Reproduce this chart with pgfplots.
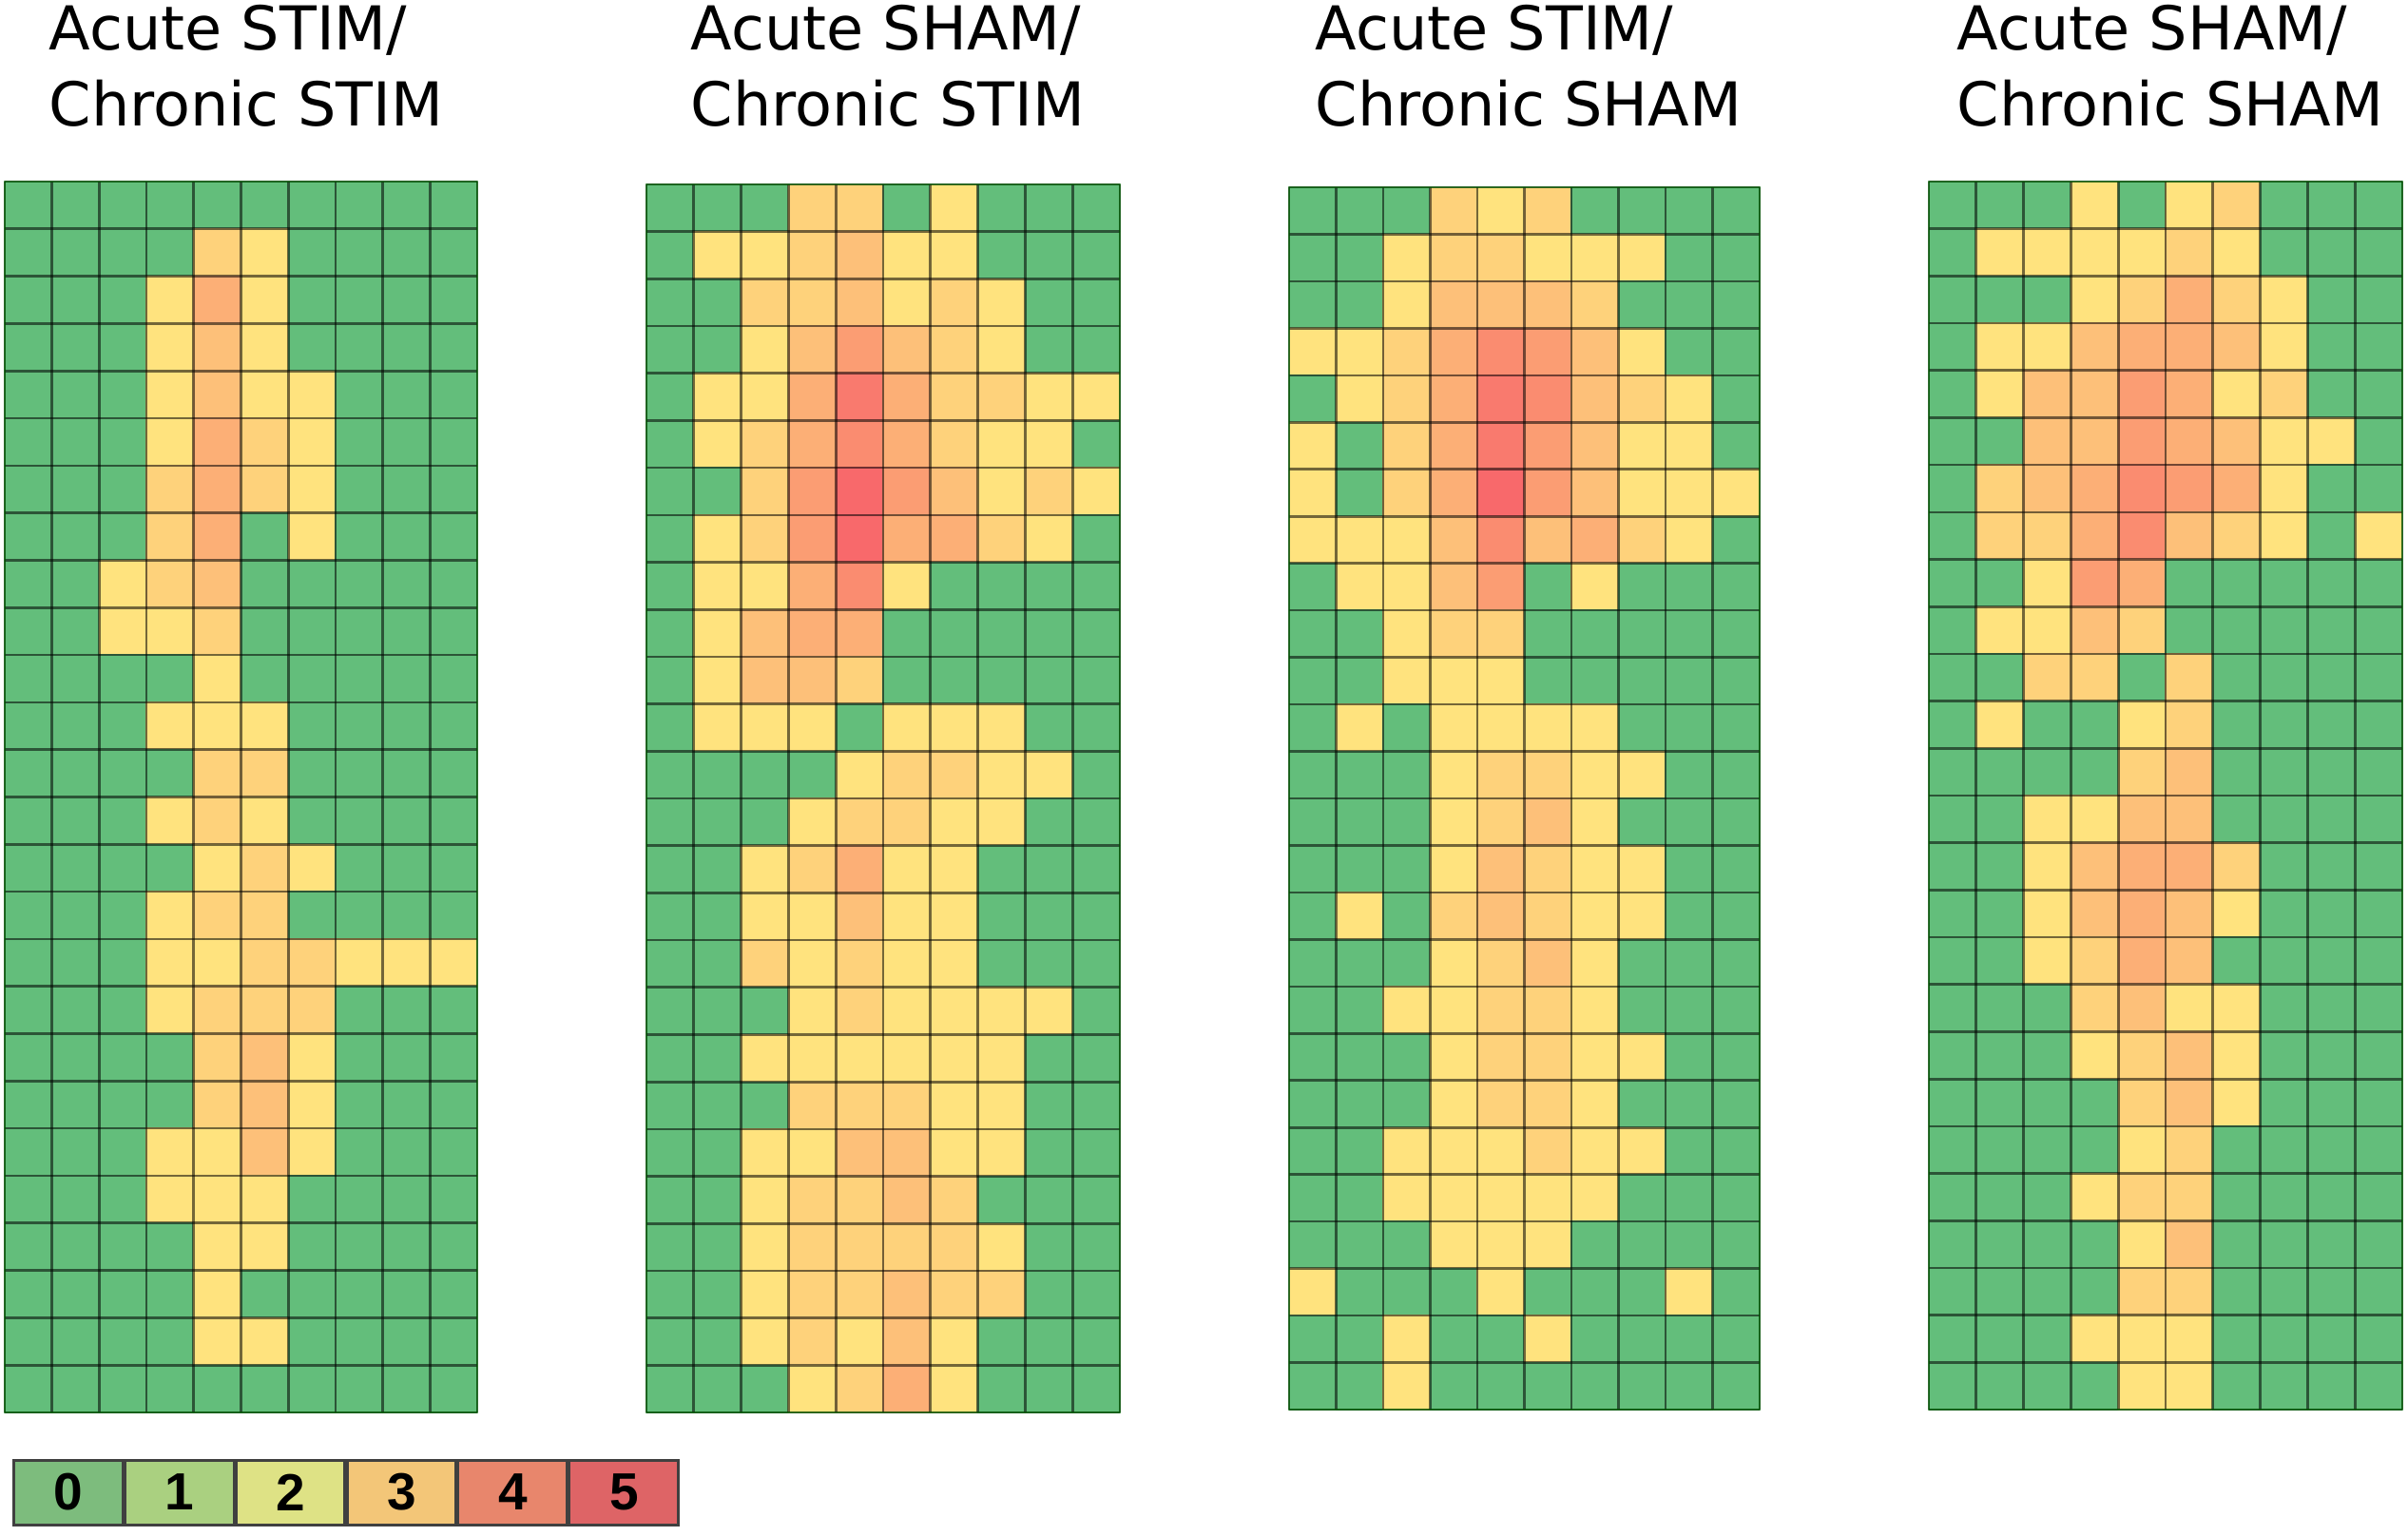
\documentclass[border=0pt]{standalone}
\usepackage{fontspec}
\setmainfont{DejaVu Sans}
\newfontfamily\legfont{Liberation Sans}
\usepackage{pgfplots}
\usepackage{pgfplotstable}
\pgfplotsset{compat=1.18}

% 1 px of the reference = 0.3pt
\def\u{0.3pt}

% cell levels, one line per row of the grid, top row first
\pgfplotstableread[row sep=crcr]{c\\
0\\0\\0\\0\\0\\0\\0\\0\\0\\0\\
0\\0\\0\\0\\2\\1\\0\\0\\0\\0\\
0\\0\\0\\1\\4\\1\\0\\0\\0\\0\\
0\\0\\0\\1\\3\\1\\0\\0\\0\\0\\
0\\0\\0\\1\\3\\1\\1\\0\\0\\0\\
0\\0\\0\\1\\4\\2\\1\\0\\0\\0\\
0\\0\\0\\2\\4\\2\\1\\0\\0\\0\\
0\\0\\0\\2\\4\\0\\1\\0\\0\\0\\
0\\0\\1\\2\\3\\0\\0\\0\\0\\0\\
0\\0\\1\\1\\2\\0\\0\\0\\0\\0\\
0\\0\\0\\0\\1\\0\\0\\0\\0\\0\\
0\\0\\0\\1\\1\\1\\0\\0\\0\\0\\
0\\0\\0\\0\\2\\2\\0\\0\\0\\0\\
0\\0\\0\\1\\2\\1\\0\\0\\0\\0\\
0\\0\\0\\0\\1\\2\\1\\0\\0\\0\\
0\\0\\0\\1\\2\\2\\0\\0\\0\\0\\
0\\0\\0\\1\\1\\2\\2\\1\\1\\1\\
0\\0\\0\\1\\2\\2\\2\\0\\0\\0\\
0\\0\\0\\0\\2\\3\\1\\0\\0\\0\\
0\\0\\0\\0\\2\\3\\1\\0\\0\\0\\
0\\0\\0\\1\\1\\3\\1\\0\\0\\0\\
0\\0\\0\\1\\1\\1\\0\\0\\0\\0\\
0\\0\\0\\0\\1\\1\\0\\0\\0\\0\\
0\\0\\0\\0\\1\\0\\0\\0\\0\\0\\
0\\0\\0\\0\\1\\1\\0\\0\\0\\0\\
0\\0\\0\\0\\0\\0\\0\\0\\0\\0\\
}\stimstim

\pgfplotstableread[row sep=crcr]{c\\
0\\0\\0\\2\\2\\0\\1\\0\\0\\0\\
0\\1\\1\\2\\3\\1\\1\\0\\0\\0\\
0\\0\\2\\2\\3\\1\\2\\1\\0\\0\\
0\\0\\1\\3\\5\\3\\2\\1\\0\\0\\
0\\1\\1\\4\\7\\4\\2\\2\\1\\1\\
0\\1\\2\\4\\6\\4\\2\\1\\1\\0\\
0\\0\\2\\5\\8\\5\\3\\1\\2\\1\\
0\\1\\2\\5\\8\\4\\4\\2\\1\\0\\
0\\1\\1\\4\\6\\1\\0\\0\\0\\0\\
0\\1\\3\\4\\4\\0\\0\\0\\0\\0\\
0\\1\\3\\3\\2\\0\\0\\0\\0\\0\\
0\\1\\1\\1\\0\\1\\1\\1\\0\\0\\
0\\0\\0\\0\\1\\2\\2\\1\\1\\0\\
0\\0\\0\\1\\2\\2\\1\\1\\0\\0\\
0\\0\\1\\2\\4\\1\\1\\0\\0\\0\\
0\\0\\1\\1\\3\\1\\1\\0\\0\\0\\
0\\0\\2\\1\\2\\1\\1\\0\\0\\0\\
0\\0\\0\\1\\2\\1\\1\\1\\1\\0\\
0\\0\\1\\1\\1\\1\\1\\1\\0\\0\\
0\\0\\0\\2\\2\\2\\1\\1\\0\\0\\
0\\0\\1\\1\\3\\3\\1\\1\\0\\0\\
0\\0\\1\\2\\2\\3\\2\\0\\0\\0\\
0\\0\\1\\2\\2\\2\\2\\1\\0\\0\\
0\\0\\1\\2\\2\\3\\2\\2\\0\\0\\
0\\0\\1\\2\\1\\3\\1\\0\\0\\0\\
0\\0\\0\\1\\2\\4\\1\\0\\0\\0\\
}\shamstim

\pgfplotstableread[row sep=crcr]{c\\
0\\0\\0\\2\\1\\2\\0\\0\\0\\0\\
0\\0\\1\\2\\2\\1\\1\\1\\0\\0\\
0\\0\\1\\3\\3\\3\\2\\0\\0\\0\\
1\\1\\2\\4\\6\\5\\3\\1\\0\\0\\
0\\1\\2\\4\\7\\6\\3\\2\\1\\0\\
1\\0\\2\\4\\7\\5\\3\\1\\1\\0\\
1\\0\\2\\4\\8\\5\\3\\1\\1\\1\\
1\\1\\1\\3\\6\\3\\4\\2\\1\\0\\
0\\1\\1\\3\\5\\0\\1\\0\\0\\0\\
0\\0\\1\\2\\2\\0\\0\\0\\0\\0\\
0\\0\\1\\1\\1\\0\\0\\0\\0\\0\\
0\\1\\0\\1\\1\\1\\1\\0\\0\\0\\
0\\0\\0\\1\\2\\2\\1\\1\\0\\0\\
0\\0\\0\\1\\2\\3\\1\\0\\0\\0\\
0\\0\\0\\1\\3\\2\\1\\1\\0\\0\\
0\\1\\0\\2\\3\\2\\1\\1\\0\\0\\
0\\0\\0\\1\\2\\3\\1\\0\\0\\0\\
0\\0\\1\\1\\2\\2\\1\\0\\0\\0\\
0\\0\\0\\1\\2\\2\\1\\1\\0\\0\\
0\\0\\0\\1\\2\\2\\1\\0\\0\\0\\
0\\0\\1\\1\\1\\2\\1\\1\\0\\0\\
0\\0\\1\\1\\1\\1\\1\\0\\0\\0\\
0\\0\\0\\1\\1\\1\\0\\0\\0\\0\\
1\\0\\0\\0\\1\\0\\0\\0\\1\\0\\
0\\0\\1\\0\\0\\1\\0\\0\\0\\0\\
0\\0\\1\\0\\0\\0\\0\\0\\0\\0\\
}\stimsham

\pgfplotstableread[row sep=crcr]{c\\
0\\0\\0\\1\\0\\1\\2\\0\\0\\0\\
0\\1\\1\\1\\1\\2\\1\\0\\0\\0\\
0\\0\\0\\1\\2\\4\\2\\1\\0\\0\\
0\\1\\1\\3\\4\\4\\3\\1\\0\\0\\
0\\1\\3\\3\\5\\4\\1\\2\\0\\0\\
0\\0\\3\\3\\5\\4\\3\\1\\1\\0\\
0\\2\\3\\4\\6\\5\\4\\1\\0\\0\\
0\\2\\2\\4\\6\\3\\2\\1\\0\\1\\
0\\0\\1\\5\\4\\0\\0\\0\\0\\0\\
0\\1\\1\\3\\2\\0\\0\\0\\0\\0\\
0\\0\\2\\2\\0\\2\\0\\0\\0\\0\\
0\\1\\0\\0\\1\\2\\0\\0\\0\\0\\
0\\0\\0\\0\\2\\3\\0\\0\\0\\0\\
0\\0\\1\\1\\3\\3\\0\\0\\0\\0\\
0\\0\\1\\3\\4\\4\\2\\0\\0\\0\\
0\\0\\1\\3\\4\\3\\1\\0\\0\\0\\
0\\0\\1\\2\\4\\3\\0\\0\\0\\0\\
0\\0\\0\\2\\3\\1\\1\\0\\0\\0\\
0\\0\\0\\1\\2\\3\\1\\0\\0\\0\\
0\\0\\0\\0\\2\\3\\1\\0\\0\\0\\
0\\0\\0\\0\\1\\2\\0\\0\\0\\0\\
0\\0\\0\\1\\2\\2\\0\\0\\0\\0\\
0\\0\\0\\0\\1\\3\\0\\0\\0\\0\\
0\\0\\0\\0\\2\\2\\0\\0\\0\\0\\
0\\0\\0\\1\\1\\1\\0\\0\\0\\0\\
0\\0\\0\\0\\1\\1\\0\\0\\0\\0\\
}\shamsham

\pgfplotsset{
  heat/.style={
    scale only axis,
    y dir=reverse,
    enlargelimits=false,
    xmin=-0.5, xmax=9.5, ymin=-0.5, ymax=25.5,
    xtick={-0.5,0.5,...,9.5},
    ytick={-0.5,0.5,...,25.5},
    xticklabels={}, yticklabels={},
    major tick length=0pt,
    grid=major,
    major grid style={black, opacity=0.55, line width=0.8pt},
    axis line style={black!60!green, opacity=0.6, line width=0.5pt},
    axis on top,
    colormap={cells}{rgb255(0cm)=(99,190,123) rgb255(1cm)=(255,227,126) rgb255(8cm)=(248,105,107)},
    point meta min=0, point meta max=8,
  },
}
\tikzset{paneltitle/.style={anchor=base west, inner sep=0pt, font=\fontsize{19.1}{19.1}\selectfont}}

% left, top, width, height in reference px; table
% the +0.5 keeps floor() off the rounding error at whole multiples of ten
\newcommand{\heatpanel}[5]{
\begin{axis}[heat, anchor=north west, at={(#1*\u,-#2*\u)},
    width=#3*\u, height=#4*\u]
\addplot[matrix plot*, mesh/cols=10, point meta=\thisrow{c}]
    table[x index=0, y index=0,
          x expr={\coordindex-10*floor((\coordindex+0.5)/10)},
          y expr={floor((\coordindex+0.5)/10)}] {#5};
\end{axis}
}

\begin{document}
\begin{tikzpicture}
\path[use as bounding box] (0,0) rectangle (2533*\u,-1616*\u);

\heatpanel{5}{191}{497}{1295}{\stimstim}
\heatpanel{680}{194}{498}{1292}{\shamstim}
\heatpanel{1356}{197}{495}{1286}{\stimsham}
\heatpanel{2029}{191}{498}{1292}{\shamsham}

\node[paneltitle] at (51*\u,-53*\u) {Acute STIM/};
\node[paneltitle] at (51*\u,-133*\u) {Chronic STIM};
\node[paneltitle] at (726*\u,-53*\u) {Acute SHAM/};
\node[paneltitle] at (726*\u,-133*\u) {Chronic STIM};
\node[paneltitle] at (1383*\u,-53*\u) {Acute STIM/};
\node[paneltitle] at (1383*\u,-133*\u) {Chronic SHAM};
\node[paneltitle] at (2058*\u,-53*\u) {Acute SHAM/};
\node[paneltitle] at (2058*\u,-133*\u) {Chronic SHAM};

% key below the first panel
\begin{axis}[
    scale only axis, anchor=north west, at={(13*\u,-1535*\u)},
    width=702*\u, height=70*\u,
    xmin=-0.5, xmax=5.5, ymin=0, ymax=1,
    enlargelimits=false,
    hide axis,
    ybar, bar shift=0pt, bar width=1,
]
\addplot[fill={rgb,255:red,125;green,188;blue,125}, draw=black!75, line width=1.5pt] coordinates {(0,1)};
\addplot[fill={rgb,255:red,170;green,208;blue,128}, draw=black!75, line width=1.5pt] coordinates {(1,1)};
\addplot[fill={rgb,255:red,222;green,226;blue,133}, draw=black!75, line width=1.5pt] coordinates {(2,1)};
\addplot[fill={rgb,255:red,243;green,198;blue,120}, draw=black!75, line width=1.5pt] coordinates {(3,1)};
\addplot[fill={rgb,255:red,232;green,134;blue,108}, draw=black!75, line width=1.5pt] coordinates {(4,1)};
\addplot[fill={rgb,255:red,222;green,100;blue,102}, draw=black!75, line width=1.5pt] coordinates {(5,1)};
\addplot[draw=none, mark=none, point meta=x,
    nodes near coords,
    nodes near coords style={anchor=center, inner sep=0pt,
        font=\legfont\bfseries\fontsize{16.5}{16.5}\selectfont,
        /pgf/number format/assume math mode=true}]
    coordinates {(0,0.5) (1,0.5) (2,0.5) (3,0.5) (4,0.5) (5,0.5)};
\end{axis}
\end{tikzpicture}
\end{document}
